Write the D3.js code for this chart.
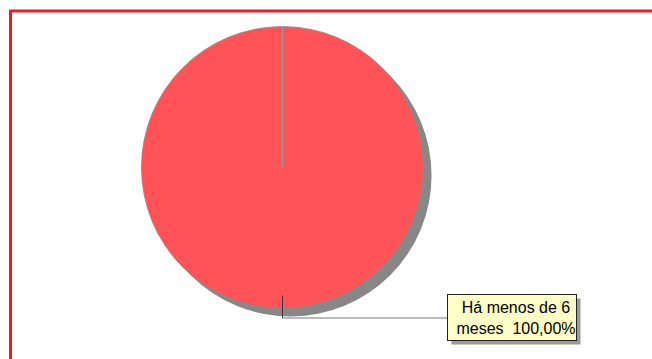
<!DOCTYPE html>
<html><head><meta charset="utf-8">
<script src="https://cdn.jsdelivr.net/npm/d3@7"></script>
<style>html,body{margin:0;padding:0;background:#fff;overflow:hidden}</style>
</head><body><div id="chart"></div>
<script>
const categories = ["Há menos de 6 meses"];
const values = [100];
const labelLines = ["Há menos de 6", "meses  100,00%"];

const W = 652, H = 359;
const svg = d3.select("#chart").append("svg").attr("width", W).attr("height", H);
svg.append("rect").attr("width", W).attr("height", H).attr("fill", "#fff");
// frame
svg.append("rect").attr("x", 10.5).attr("y", 11).attr("width", 700).attr("height", 400)
  .attr("fill", "none").attr("stroke", "#d9222a").attr("stroke-width", 3);

const cx = 282.5, cy = 167.5, r = 141;
const pie = d3.pie().sort(null).startAngle(0).endAngle(2 * Math.PI);
const arcs = pie(values);
const arc = d3.arc().innerRadius(0).outerRadius(r);
const color = d3.scaleOrdinal().domain(categories).range(["#ff5357"]);

// shadow
svg.append("g").attr("transform", `translate(${cx + 8},${cy + 8})`)
  .selectAll("path").data(arcs).join("path").attr("d", arc).attr("fill", "#878787");

const g = svg.append("g").attr("transform", `translate(${cx},${cy})`);
g.selectAll("path.slice").data(arcs).join("path").attr("class", "slice")
  .attr("d", arc).attr("fill", (d, i) => color(categories[i]))
  .attr("stroke", "#8a8a8a").attr("stroke-width", 0.8);
// slice boundary at start angle
g.selectAll("line.edge").data(arcs).join("line").attr("class", "edge")
  .attr("x1", 0).attr("y1", 0)
  .attr("x2", d => r * Math.sin(d.startAngle)).attr("y2", d => -r * Math.cos(d.startAngle))
  .attr("stroke", "#999").attr("stroke-width", 1);

// leader line
const mid = (arcs[0].startAngle + arcs[0].endAngle) / 2;
const px = r * Math.sin(mid), py = -r * Math.cos(mid);
g.append("line").attr("x1", px).attr("y1", py - 13).attr("x2", px).attr("y2", py + 9.5)
  .attr("stroke", "#333").attr("stroke-width", 1);
const boxX = 447.5, boxY = 294.5, boxW = 129, boxH = 46;
svg.append("line").attr("x1", cx + px).attr("y1", cy + py + 9.5).attr("x2", boxX).attr("y2", cy + py + 9.5)
  .attr("stroke", "#777").attr("stroke-width", 1);

// label box
svg.append("rect").attr("x", boxX + 4).attr("y", boxY + 4).attr("width", boxW).attr("height", boxH).attr("fill", "#9a9a9a");
svg.append("rect").attr("x", boxX).attr("y", boxY).attr("width", boxW).attr("height", boxH)
  .attr("fill", "#ffffc6").attr("stroke", "#222").attr("stroke-width", 1);
svg.append("text").attr("font-family", "Liberation Sans, Arial, sans-serif").attr("font-size", 16)
  .attr("fill", "#000").attr("text-anchor", "middle").style("white-space", "pre")
  .selectAll("tspan").data(labelLines).join("tspan")
  .attr("x", 516).attr("y", (d, i) => 313 + i * 21).text(d => d);
</script></body></html>
